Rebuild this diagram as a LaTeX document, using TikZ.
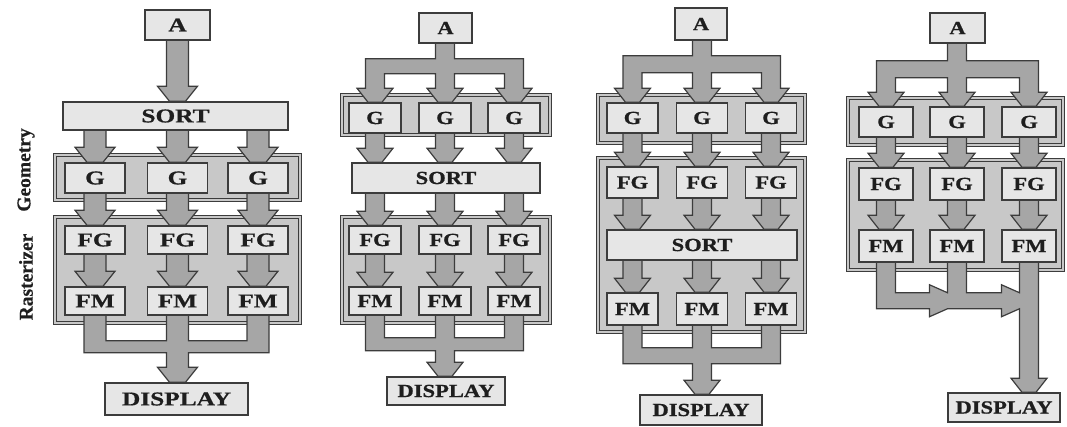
\documentclass[tikz,border=0pt]{standalone}
\usepackage{fontspec}
\setmainfont{Liberation Serif}
\newfontfamily\fA[FakeStretch=1.3,FakeBold=0.8]{Liberation Serif}
\newfontfamily\fB[FakeStretch=1.22,FakeBold=0.8]{Liberation Serif}
\newfontfamily\fS[FakeBold=0.5]{Liberation Serif}
\usetikzlibrary{calc}
\definecolor{linec}{HTML}{3C3C3C}
\definecolor{grpfill}{HTML}{C8C8C8}
\definecolor{arrfill}{HTML}{A6A6A6}
\definecolor{boxfill}{HTML}{E6E6E6}
\definecolor{txt}{HTML}{1E1E1E}
\pgfdeclarelayer{back}
\pgfdeclarelayer{mid}
\pgfsetlayers{back,mid,main}
\tikzset{
 ubox/.style={draw=linec, fill=boxfill, line width=1.5pt, inner sep=0pt, text=txt},
 grp/.style={draw=linec, line width=0.9pt, double=grpfill, double distance=2.6pt, fill=grpfill},
 fat/.style={draw=linec, fill=arrfill, line width=1.2pt, line join=miter},
 pA/.style={font=\fA\bfseries\fontsize{19.5}{20}\selectfont},
 pB/.style={font=\fB\bfseries\fontsize{18.5}{19}\selectfont},
 side/.style={rotate=90, text=txt, font=\fS\bfseries\fontsize{19.5}{20}\selectfont},
}
% arrow head ending at point #1 (tip), going left side -> right side
\newcommand\hd[1]{-- ($(#1)+(-\aw,-\ah)$) -- ($(#1)+(-\ab,-\ah)$) -- ($(#1)+(-\at,0)$) -- ($(#1)+(\at,0)$) -- ($(#1)+(\ab,-\ah)$) -- ($(#1)+(\aw,-\ah)$)}
% #1 column node, #2 source node, #3 target node
\newcommand\farrow[3]{\filldraw[fat] ($(#1.center |- #2.south)+(-\aw,-6)$) \hd{#1.center |- #3.north} -- ($(#1.center |- #2.south)+(\aw,-6)$) -- cycle;}
% branch: #1 source, #2 #3 #4 targets, #5 bar top offset, #6 hole top offset
\newcommand\branch[6]{\filldraw[fat] ($(#3.center |- #1.south)+(-\aw,-6)$) -- ($(#3.center |- #1.south)+(-\aw,#5)$) -- ($(#2.center |- #1.south)+(-\aw,#5)$) \hd{#2.north} -- ($(#2.center |- #1.south)+(\aw,#6)$) -- ($(#3.center |- #1.south)+(-\aw,#6)$) \hd{#3.north} -- ($(#3.center |- #1.south)+(\aw,#6)$) -- ($(#4.center |- #1.south)+(-\aw,#6)$) \hd{#4.north} -- ($(#4.center |- #1.south)+(\aw,#5)$) -- ($(#3.center |- #1.south)+(\aw,#5)$) -- ($(#3.center |- #1.south)+(\aw,-6)$) -- cycle;}
% merge: #1 #2 #3 sources, #4 target, #5 hole bottom offset, #6 bar bottom offset
\newcommand\mergeC[6]{\filldraw[fat] ($(#1.south)+(-\aw,-6)$) -- ($(#1.south)+(-\aw,#6)$) -- ($(#2.south)+(-\aw,#6)$) \hd{#2.center |- #4.north} -- ($(#2.south)+(\aw,#6)$) -- ($(#3.south)+(\aw,#6)$) -- ($(#3.south)+(\aw,-6)$) -- ($(#3.south)+(-\aw,-6)$) -- ($(#3.south)+(-\aw,#5)$) -- ($(#2.south)+(\aw,#5)$) -- ($(#2.south)+(\aw,-6)$) -- ($(#2.south)+(-\aw,-6)$) -- ($(#2.south)+(-\aw,#5)$) -- ($(#1.south)+(\aw,#5)$) -- ($(#1.south)+(\aw,-6)$) -- cycle;}
\begin{document}
\begin{tikzpicture}[x=1pt,y=-1pt]
\useasboundingbox (0,0) rectangle (1067,427);
%================ Panel 1
\begin{scope}
\def\aw{11}\def\ab{20}\def\at{8}\def\ah{15}
\node[side] (p1lg) at (26,170) {Geometry};
\node[side] (p1lr) at (26,277) {Rasterizer};
\node[ubox,pA,minimum width=65pt,minimum height=30pt] (p1a) at (177.5,25) {A};
\node[ubox,pA,minimum width=225pt,minimum height=28pt] (p1s) at (175.5,116) {SORT};
\foreach \i/\x in {1/95,2/177.5,3/258}{
 \node[ubox,pA,minimum width=60pt,minimum height=30pt] (p1g\i) at (\x,178) {G};
 \node[ubox,pA,minimum width=60pt,minimum height=28pt] (p1fg\i) at (\x,240) {FG};
 \node[ubox,pA,minimum width=60pt,minimum height=28pt] (p1fm\i) at (\x,301) {FM};
}
\node[ubox,pA,minimum width=143pt,minimum height=32pt] (p1d) at (176.5,399) {DISPLAY};
\begin{pgfonlayer}{back}
\filldraw[grp] (55,155) rectangle (300,200);
\filldraw[grp] (55,217) rectangle (300,323);
\end{pgfonlayer}
\begin{pgfonlayer}{mid}
\farrow{p1a}{p1a}{p1s}
\foreach \i in {1,2,3}{
 \farrow{p1g\i}{p1s}{p1g\i}
 \farrow{p1g\i}{p1g\i}{p1fg\i}
 \farrow{p1g\i}{p1fg\i}{p1fm\i}
}
\mergeC{p1fm1}{p1fm2}{p1fm3}{p1d}{25}{37}
\end{pgfonlayer}
\end{scope}
%================ Panel 2
\begin{scope}
\def\aw{9.5}\def\ab{18}\def\at{7}\def\ah{14}
\node[ubox,pB,minimum width=53pt,minimum height=30pt] (p2a) at (445.5,28) {A};
\node[ubox,pB,minimum width=188pt,minimum height=30pt] (p2s) at (446,178) {SORT};
\foreach \i/\x in {1/375,2/445,3/514}{
 \node[ubox,pB,minimum width=52pt,minimum height=30pt] (p2g\i) at (\x,118) {G};
 \node[ubox,pB,minimum width=52pt,minimum height=28pt] (p2fg\i) at (\x,240) {FG};
 \node[ubox,pB,minimum width=52pt,minimum height=28pt] (p2fm\i) at (\x,301) {FM};
}
\node[ubox,pB,minimum width=118pt,minimum height=28pt] (p2d) at (446,391) {DISPLAY};
\begin{pgfonlayer}{back}
\filldraw[grp] (342,95) rectangle (550,135);
\filldraw[grp] (342,217) rectangle (550,323);
\end{pgfonlayer}
\begin{pgfonlayer}{mid}
\branch{p2a}{p2g1}{p2g2}{p2g3}{15}{30}
\foreach \i in {1,2,3}{
 \farrow{p2g\i}{p2g\i}{p2s}
 \farrow{p2g\i}{p2s}{p2fg\i}
 \farrow{p2g\i}{p2fg\i}{p2fm\i}
}
\mergeC{p2fm1}{p2fm2}{p2fm3}{p2d}{22}{35}
\end{pgfonlayer}
\end{scope}
%================ Panel 3
\begin{scope}
\def\aw{9.5}\def\ab{18}\def\at{7}\def\ah{14}
\node[ubox,pB,minimum width=52pt,minimum height=32pt] (p3a) at (701,24) {A};
\node[ubox,pB,minimum width=190pt,minimum height=30pt] (p3s) at (702,245) {SORT};
\foreach \i/\x in {1/632.5,2/702,3/771}{
 \node[ubox,pB,minimum width=51pt,minimum height=30pt] (p3g\i) at (\x,118) {G};
 \node[ubox,pB,minimum width=51pt,minimum height=31pt] (p3fg\i) at (\x,182.5) {FG};
 \node[ubox,pB,minimum width=51pt,minimum height=32pt] (p3fm\i) at (\x,309) {FM};
}
\node[ubox,pB,minimum width=122pt,minimum height=30pt] (p3d) at (701,410) {DISPLAY};
\begin{pgfonlayer}{back}
\filldraw[grp] (598,95) rectangle (805,143);
\filldraw[grp] (598,158) rectangle (805,332);
\end{pgfonlayer}
\begin{pgfonlayer}{mid}
\branch{p3a}{p3g1}{p3g2}{p3g3}{15}{32}
\foreach \i in {1,2,3}{
 \farrow{p3g\i}{p3g\i}{p3fg\i}
 \farrow{p3g\i}{p3fg\i}{p3s}
 \farrow{p3g\i}{p3s}{p3fm\i}
}
\mergeC{p3fm1}{p3fm2}{p3fm3}{p3d}{22}{38}
\end{pgfonlayer}
\end{scope}
%================ Panel 4
\begin{scope}
\def\aw{9.5}\def\ab{18}\def\at{7}\def\ah{14}
\node[ubox,pB,minimum width=55pt,minimum height=30pt] (p4a) at (957.5,28) {A};
\foreach \i/\x in {1/886,2/957,3/1029}{
 \node[ubox,pB,minimum width=54pt,minimum height=30pt] (p4g\i) at (\x,122) {G};
 \node[ubox,pB,minimum width=54pt,minimum height=32pt] (p4fg\i) at (\x,184) {FG};
 \node[ubox,pB,minimum width=54pt,minimum height=32pt] (p4fm\i) at (\x,246) {FM};
}
\node[ubox,pB,minimum width=112pt,minimum height=29pt] (p4d) at (1004,407.5) {DISPLAY};
\begin{pgfonlayer}{back}
\filldraw[grp] (848,98) rectangle (1063,145);
\filldraw[grp] (848,160) rectangle (1063,270);
\end{pgfonlayer}
\begin{pgfonlayer}{mid}
\branch{p4a}{p4g1}{p4g2}{p4g3}{17}{34}
\foreach \i in {1,2,3}{
 \farrow{p4g\i}{p4g\i}{p4fg\i}
 \farrow{p4g\i}{p4fg\i}{p4fm\i}
}
\filldraw[fat] ($(p4fm1.south)+(-\aw,-6)$) -- ($(p4fm1.south)+(-\aw,46)$)
 -- ($(p4fm2.south)+(-\aw-18,46)$) -- ($(p4fm2.south)+(-\aw-18,54)$) -- ($(p4fm2.south)+(-\aw,46)$)
 -- ($(p4fm3.south)+(-\aw-18,46)$) -- ($(p4fm3.south)+(-\aw-18,54)$) -- ($(p4fm3.south)+(-\aw,46)$)
 \hd{p4fm3.center |- p4d.north}
 -- ($(p4fm3.south)+(\aw,-6)$) -- ($(p4fm3.south)+(-\aw,-6)$)
 -- ($(p4fm3.south)+(-\aw,30)$) -- ($(p4fm3.south)+(-\aw-18,22)$) -- ($(p4fm3.south)+(-\aw-18,30)$)
 -- ($(p4fm2.south)+(\aw,30)$) -- ($(p4fm2.south)+(\aw,-6)$) -- ($(p4fm2.south)+(-\aw,-6)$)
 -- ($(p4fm2.south)+(-\aw,30)$) -- ($(p4fm2.south)+(-\aw-18,22)$) -- ($(p4fm2.south)+(-\aw-18,30)$)
 -- ($(p4fm1.south)+(\aw,30)$) -- ($(p4fm1.south)+(\aw,-6)$) -- cycle;
\end{pgfonlayer}
\end{scope}
\end{tikzpicture}
\end{document}
